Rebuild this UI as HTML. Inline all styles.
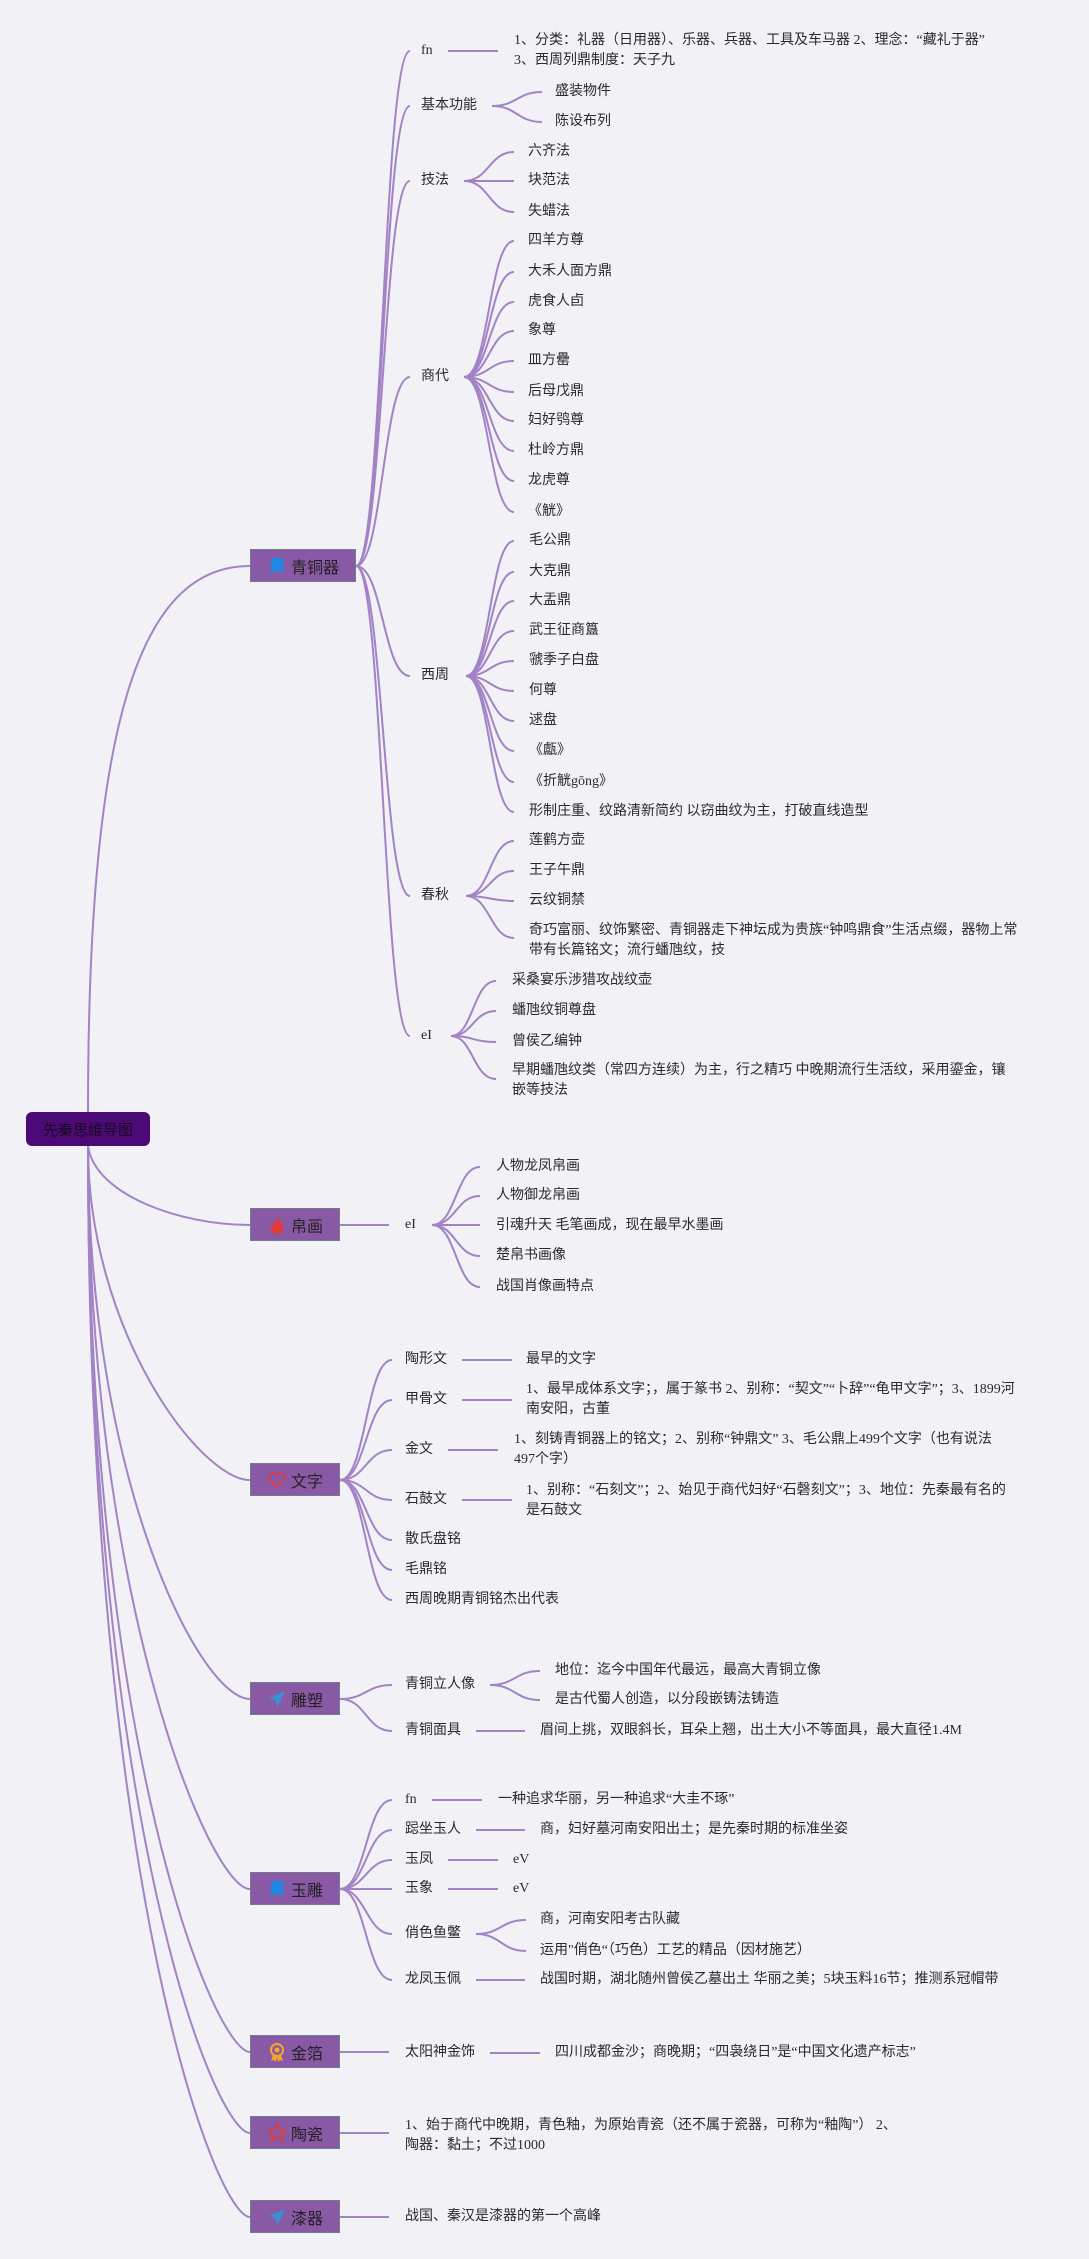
<!DOCTYPE html>
<html><head><meta charset="utf-8"><style>
body{margin:0;width:1089px;height:2259px;background:#f2f1f5;position:relative;overflow:hidden;font-family:"Liberation Serif","Noto Sans CJK SC",serif;}
.t{position:absolute;font-size:14px;line-height:20px;color:#2a2a2a;white-space:nowrap;}
.b{position:absolute;height:33px;background:#8a59a6;border:1px solid #6f7d8c;box-sizing:border-box;font-family:"Liberation Sans","Noto Sans CJK SC",sans-serif;font-size:16px;color:#222;display:flex;align-items:center;justify-content:center;gap:4px;}
.b svg{width:20px;height:20px;}
.root{position:absolute;left:26px;top:1112px;width:124px;height:34px;background:#4b0a76;border-radius:6px;font-family:"Liberation Sans","Noto Sans CJK SC",sans-serif;font-size:15px;color:#1a0a20;display:flex;align-items:center;justify-content:center;}
svg.l{position:absolute;left:0;top:0;}
svg.l path{fill:none;stroke:#a283c6;stroke-width:2;}
</style></head><body>
<svg class="l" width="1089" height="2259">
<!-- root -->
<path d="M88 1112 C88 720 140 566 250 566"/>
<path d="M88 1146 C95 1195 180 1225 250 1225"/>
<path d="M88 1146 C88 1330 200 1480 250 1480"/>
<path d="M88 1146 C88 1480 200 1699 250 1699"/>
<path d="M88 1146 C88 1600 210 1889 250 1889"/>
<path d="M88 1146 C88 1750 215 2052 250 2052"/>
<path d="M88 1146 C88 1820 215 2133 250 2133"/>
<path d="M88 1146 C88 1880 215 2217 250 2217"/>
<!-- 青铜器 -->
<path d="M356 566 C383 566 383 51 410 51"/>
<path d="M356 566 C383 566 383 106 410 106"/>
<path d="M356 566 C383 566 383 181 410 181"/>
<path d="M356 566 C383 566 383 377 410 377"/>
<path d="M356 566 C383 566 383 676 410 676"/>
<path d="M356 566 C383 566 383 896 410 896"/>
<path d="M356 566 C383 566 383 1036 410 1036"/>
<path d="M448 51 L498 51"/>
<path d="M492 106 C517 106 517 92 542 92"/><path d="M492 106 C517 106 517 122 542 122"/>
<path d="M464 181 C489 181 489 152 514 152"/><path d="M464 181 L514 181"/><path d="M464 181 C489 181 489 212 514 212"/>
<path d="M464 377 C489 377 489 241 514 241"/><path d="M464 377 C489 377 489 272 514 272"/><path d="M464 377 C489 377 489 302 514 302"/><path d="M464 377 C489 377 489 331 514 331"/><path d="M464 377 C489 377 489 361 514 361"/><path d="M464 377 C489 377 489 392 514 392"/><path d="M464 377 C489 377 489 421 514 421"/><path d="M464 377 C489 377 489 451 514 451"/><path d="M464 377 C489 377 489 481 514 481"/><path d="M464 377 C489 377 489 512 514 512"/>
<path d="M466 676 C490 676 490 541 514 541"/><path d="M466 676 C490 676 490 572 514 572"/><path d="M466 676 C490 676 490 601 514 601"/><path d="M466 676 C490 676 490 631 514 631"/><path d="M466 676 C490 676 490 661 514 661"/><path d="M466 676 C490 676 490 691 514 691"/><path d="M466 676 C490 676 490 721 514 721"/><path d="M466 676 C490 676 490 751 514 751"/><path d="M466 676 C490 676 490 782 514 782"/><path d="M466 676 C490 676 490 812 514 812"/>
<path d="M466 896 C490 896 490 841 514 841"/><path d="M466 896 C490 896 490 871 514 871"/><path d="M466 896 C490 896 490 901 514 901"/><path d="M466 896 C490 896 490 938 514 938"/>
<path d="M451 1036 C473 1036 473 981 496 981"/><path d="M451 1036 C473 1036 473 1011 496 1011"/><path d="M451 1036 C473 1036 473 1042 496 1042"/><path d="M451 1036 C473 1036 473 1079 496 1079"/>
<!-- 帛画 -->
<path d="M340 1225 L389 1225"/>
<path d="M432 1225 C456 1225 456 1167 480 1167"/><path d="M432 1225 C456 1225 456 1196 480 1196"/><path d="M432 1225 L480 1225"/><path d="M432 1225 C456 1225 456 1256 480 1256"/><path d="M432 1225 C456 1225 456 1287 480 1287"/>
<!-- 文字 -->
<path d="M340 1480 C366 1480 366 1360 392 1360"/><path d="M340 1480 C366 1480 366 1400 392 1400"/><path d="M340 1480 C366 1480 366 1450 392 1450"/><path d="M340 1480 C366 1480 366 1500 392 1500"/><path d="M340 1480 C366 1480 366 1540 392 1540"/><path d="M340 1480 C366 1480 366 1570 392 1570"/><path d="M340 1480 C366 1480 366 1600 392 1600"/>
<path d="M462 1360 L512 1360"/><path d="M462 1400 L512 1400"/><path d="M448 1450 L498 1450"/><path d="M462 1500 L512 1500"/>
<!-- 雕塑 -->
<path d="M340 1699 C366 1699 366 1685 392 1685"/><path d="M340 1699 C366 1699 366 1731 392 1731"/>
<path d="M490 1685 C515 1685 515 1671 540 1671"/><path d="M490 1685 C515 1685 515 1700 540 1700"/>
<path d="M476 1731 L525 1731"/>
<!-- 玉雕 -->
<path d="M340 1889 C366 1889 366 1800 392 1800"/><path d="M340 1889 C366 1889 366 1830 392 1830"/><path d="M340 1889 C366 1889 366 1860 392 1860"/><path d="M340 1889 L392 1889"/><path d="M340 1889 C366 1889 366 1934 392 1934"/><path d="M340 1889 C366 1889 366 1980 392 1980"/>
<path d="M432 1800 L482 1800"/><path d="M476 1830 L525 1830"/><path d="M448 1860 L498 1860"/><path d="M448 1889 L498 1889"/>
<path d="M476 1934 C501 1934 501 1920 526 1920"/><path d="M476 1934 C501 1934 501 1951 526 1951"/>
<path d="M476 1980 L525 1980"/>
<!-- others -->
<path d="M340 2052 L389 2052"/><path d="M490 2053 L540 2053"/>
<path d="M340 2133 L389 2133"/>
<path d="M340 2217 L389 2217"/>
</svg>

<div class="root">先秦思维导图</div>

<div class="b" style="left:250px;top:549px;width:106px"><svg viewBox="0 0 20 20"><path d="M4 2h12v16l-6-4-6 4z" fill="#1e88e5"/></svg>青铜器</div>
<div class="b" style="left:250px;top:1208px;width:90px"><svg viewBox="0 0 20 20"><path d="M10 1c1 4 6 7 6 12a6 6 0 0 1-12 0c0-3 2-5 3-6 0 2 1 3 2 3 0-3 0-6 1-9z" fill="#e53935"/></svg>帛画</div>
<div class="b" style="left:250px;top:1463px;width:90px"><svg viewBox="0 0 20 20"><path d="M10 17 3 10a4 4 0 0 1 7-5 4 4 0 0 1 7 5z" fill="none" stroke="#e53935" stroke-width="1.6"/></svg>文字</div>
<div class="b" style="left:250px;top:1682px;width:90px"><svg viewBox="0 0 20 20"><path d="M18 2 2 9l6 2 2 7 3-5 5-11z" fill="#3b8fd6"/></svg>雕塑</div>
<div class="b" style="left:250px;top:1872px;width:90px"><svg viewBox="0 0 20 20"><path d="M4 2h12v16l-6-4-6 4z" fill="#1e88e5"/></svg>玉雕</div>
<div class="b" style="left:250px;top:2035px;width:90px"><svg viewBox="0 0 20 20"><circle cx="10" cy="8" r="6" fill="none" stroke="#f5a623" stroke-width="2"/><circle cx="10" cy="8" r="2.5" fill="#f5a623"/><path d="M6 13l-2 6 3-1 2 2 1-5M14 13l2 6-3-1-2 2-1-5" fill="#f5a623"/></svg>金箔</div>
<div class="b" style="left:250px;top:2116px;width:90px"><svg viewBox="0 0 20 20"><path d="M10 1l2.6 6 6.4.5-5 4.2 1.6 6.3L10 14.6 4.4 18l1.6-6.3-5-4.2 6.4-.5z" fill="none" stroke="#e53935" stroke-width="1.6"/></svg>陶瓷</div>
<div class="b" style="left:250px;top:2200px;width:90px"><svg viewBox="0 0 20 20"><path d="M18 2 2 9l6 2 2 7 3-5 5-11z" fill="#3b8fd6"/></svg>漆器</div>

<!-- 青铜器 -->
<div class="t" style="left:421px;top:41px">fn</div>
<div class="t" style="left:514px;top:31px">1、分类：礼器（日用器）、乐器、兵器、工具及车马器 2、理念：“藏礼于器”<br>3、西周列鼎制度：天子九</div>
<div class="t" style="left:421px;top:96px">基本功能</div>
<div class="t" style="left:555px;top:82px">盛装物件</div>
<div class="t" style="left:555px;top:112px">陈设布列</div>
<div class="t" style="left:421px;top:171px">技法</div>
<div class="t" style="left:528px;top:142px">六齐法</div>
<div class="t" style="left:528px;top:171px">块范法</div>
<div class="t" style="left:528px;top:202px">失蜡法</div>
<div class="t" style="left:421px;top:367px">商代</div>
<div class="t" style="left:528px;top:231px">四羊方尊</div>
<div class="t" style="left:528px;top:262px">大禾人面方鼎</div>
<div class="t" style="left:528px;top:292px">虎食人卣</div>
<div class="t" style="left:528px;top:321px">象尊</div>
<div class="t" style="left:528px;top:351px">皿方罍</div>
<div class="t" style="left:528px;top:382px">后母戊鼎</div>
<div class="t" style="left:528px;top:411px">妇好鸮尊</div>
<div class="t" style="left:528px;top:441px">杜岭方鼎</div>
<div class="t" style="left:528px;top:471px">龙虎尊</div>
<div class="t" style="left:528px;top:502px">《觥》</div>
<div class="t" style="left:421px;top:666px">西周</div>
<div class="t" style="left:529px;top:531px">毛公鼎</div>
<div class="t" style="left:529px;top:562px">大克鼎</div>
<div class="t" style="left:529px;top:591px">大盂鼎</div>
<div class="t" style="left:529px;top:621px">武王征商簋</div>
<div class="t" style="left:529px;top:651px">虢季子白盘</div>
<div class="t" style="left:529px;top:681px">何尊</div>
<div class="t" style="left:529px;top:711px">逑盘</div>
<div class="t" style="left:529px;top:741px">《甗》</div>
<div class="t" style="left:529px;top:772px">《折觥gōng》</div>
<div class="t" style="left:529px;top:802px">形制庄重、纹路清新简约 以窃曲纹为主，打破直线造型</div>
<div class="t" style="left:421px;top:886px">春秋</div>
<div class="t" style="left:529px;top:831px">莲鹤方壶</div>
<div class="t" style="left:529px;top:861px">王子午鼎</div>
<div class="t" style="left:529px;top:891px">云纹铜禁</div>
<div class="t" style="left:529px;top:921px">奇巧富丽、纹饰繁密、青铜器走下神坛成为贵族“钟鸣鼎食”生活点缀，器物上常<br>带有长篇铭文；流行蟠虺纹，技</div>
<div class="t" style="left:421px;top:1026px">eI</div>
<div class="t" style="left:512px;top:971px">采桑宴乐涉猎攻战纹壶</div>
<div class="t" style="left:512px;top:1001px">蟠虺纹铜尊盘</div>
<div class="t" style="left:512px;top:1032px">曾侯乙编钟</div>
<div class="t" style="left:512px;top:1061px">早期蟠虺纹类（常四方连续）为主，行之精巧 中晚期流行生活纹，采用鎏金，镶<br>嵌等技法</div>

<!-- 帛画 -->
<div class="t" style="left:405px;top:1215px">eI</div>
<div class="t" style="left:496px;top:1157px">人物龙凤帛画</div>
<div class="t" style="left:496px;top:1186px">人物御龙帛画</div>
<div class="t" style="left:496px;top:1216px">引魂升天 毛笔画成，现在最早水墨画</div>
<div class="t" style="left:496px;top:1246px">楚帛书画像</div>
<div class="t" style="left:496px;top:1277px">战国肖像画特点</div>

<!-- 文字 -->
<div class="t" style="left:405px;top:1350px">陶形文</div>
<div class="t" style="left:526px;top:1350px">最早的文字</div>
<div class="t" style="left:405px;top:1390px">甲骨文</div>
<div class="t" style="left:526px;top:1380px">1、最早成体系文字；，属于篆书 2、别称：“契文”“卜辞”“龟甲文字”；3、1899河<br>南安阳，古董</div>
<div class="t" style="left:405px;top:1440px">金文</div>
<div class="t" style="left:514px;top:1430px">1、刻铸青铜器上的铭文；2、别称“钟鼎文” 3、毛公鼎上499个文字（也有说法<br>497个字）</div>
<div class="t" style="left:405px;top:1490px">石鼓文</div>
<div class="t" style="left:526px;top:1481px">1、别称：“石刻文”；2、始见于商代妇好“石磬刻文”；3、地位：先秦最有名的<br>是石鼓文</div>
<div class="t" style="left:405px;top:1530px">散氏盘铭</div>
<div class="t" style="left:405px;top:1560px">毛鼎铭</div>
<div class="t" style="left:405px;top:1590px">西周晚期青铜铭杰出代表</div>

<!-- 雕塑 -->
<div class="t" style="left:405px;top:1675px">青铜立人像</div>
<div class="t" style="left:555px;top:1661px">地位：迄今中国年代最远，最高大青铜立像</div>
<div class="t" style="left:555px;top:1690px">是古代蜀人创造，以分段嵌铸法铸造</div>
<div class="t" style="left:405px;top:1721px">青铜面具</div>
<div class="t" style="left:540px;top:1721px">眉间上挑，双眼斜长，耳朵上翘，出土大小不等面具，最大直径1.4M</div>

<!-- 玉雕 -->
<div class="t" style="left:405px;top:1790px">fn</div>
<div class="t" style="left:498px;top:1790px">一种追求华丽，另一种追求“大圭不琢”</div>
<div class="t" style="left:405px;top:1820px">跽坐玉人</div>
<div class="t" style="left:540px;top:1820px">商，妇好墓河南安阳出土；是先秦时期的标准坐姿</div>
<div class="t" style="left:405px;top:1850px">玉凤</div>
<div class="t" style="left:513px;top:1850px">eV</div>
<div class="t" style="left:405px;top:1879px">玉象</div>
<div class="t" style="left:513px;top:1879px">eV</div>
<div class="t" style="left:405px;top:1924px">俏色鱼鳖</div>
<div class="t" style="left:540px;top:1910px">商，河南安阳考古队藏</div>
<div class="t" style="left:540px;top:1941px">运用"俏色“（巧色）工艺的精品（因材施艺）</div>
<div class="t" style="left:405px;top:1970px">龙凤玉佩</div>
<div class="t" style="left:540px;top:1970px">战国时期，湖北随州曾侯乙墓出土 华丽之美；5块玉料16节；推测系冠帽带</div>

<!-- others -->
<div class="t" style="left:405px;top:2043px">太阳神金饰</div>
<div class="t" style="left:555px;top:2043px">四川成都金沙；商晚期；“四袅绕日”是“中国文化遗产标志”</div>
<div class="t" style="left:405px;top:2116px">1、始于商代中晚期，青色釉，为原始青瓷（还不属于瓷器，可称为“釉陶”） 2、<br>陶器：黏土；不过1000</div>
<div class="t" style="left:405px;top:2207px">战国、秦汉是漆器的第一个高峰</div>
</body></html>
